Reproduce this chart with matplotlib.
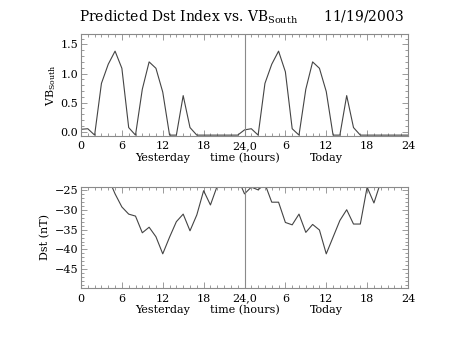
import numpy as np
import matplotlib

matplotlib.use("Agg")
import matplotlib.pyplot as plt  # noqa: E402
from matplotlib.ticker import MultipleLocator  # noqa: E402

plt.rcParams["font.family"] = ["DejaVu Serif"]

# hours 0..48 (yesterday 0-24, today 0-24)
hours = np.arange(49)

vb_south = [
    0.04, 0.05, -0.06, 0.83, 1.16, 1.385, 1.09, 0.07, -0.06, 0.73,
    1.20, 1.09, 0.68, -0.06, -0.06, 0.62, 0.07, -0.06, -0.06, -0.06,
    -0.06, -0.06, -0.06, -0.06, 0.03, 0.05, -0.06, 0.83, 1.16, 1.385,
    1.03, 0.05, -0.06, 0.73, 1.20, 1.09, 0.69, -0.06, -0.06, 0.62,
    0.07, -0.06, -0.06, -0.06, -0.06, -0.06, -0.06, -0.06, -0.06,
]

dst = [
    -18.0, -19.5, -20.5, -21.0, -22.0, -26.0, -29.3, -31.1, -31.6, -35.8,
    -34.4, -36.8, -41.1, -36.9, -33.0, -31.1, -35.3, -31.3, -25.2, -28.8,
    -24.0, -22.5, -21.5, -22.0, -26.0, -24.3, -25.0, -23.5, -28.1, -28.1,
    -33.2, -33.8, -31.1, -35.7, -33.7, -35.1, -41.1, -36.9, -32.7, -30.0,
    -33.6, -33.6, -24.3, -28.3, -23.0, -21.5, -20.5, -20.0, -19.5,
]

xtick_pos = [0, 6, 12, 18, 24, 30, 36, 42, 48]
xtick_labels = ["0", "6", "12", "18", "24,0", "6", "12", "18", "24"]
day_labels = [(12, "Yesterday"), (24, "time (hours)"), (36, "Today")]

W, H = 453, 340
fig = plt.figure(figsize=(W / 100, H / 100), dpi=100)
fig.patch.set_facecolor("white")

axis_col = "#8a8a8a"
line_col = "#444444"
fs = 8


def px_axes(x0, y0, x1, y1):
    return fig.add_axes([x0 / W, 1 - y1 / H, (x1 - x0) / W, (y1 - y0) / H])


def style(ax, ylim, ymaj, ymin):
    ax.set_xlim(0, 48)
    ax.set_ylim(*ylim)
    ax.set_xticks(xtick_pos)
    ax.set_xticklabels(xtick_labels)
    ax.xaxis.set_minor_locator(MultipleLocator(1))
    ax.yaxis.set_major_locator(MultipleLocator(ymaj))
    ax.yaxis.set_minor_locator(MultipleLocator(ymin))
    ax.tick_params(which="both", direction="in", top=True, right=True,
                   color=axis_col, labelsize=fs, width=0.6)
    ax.tick_params(which="major", length=4, pad=4)
    ax.tick_params(which="minor", length=2)
    ax.tick_params(axis="y", pad=2)
    for s in ax.spines.values():
        s.set_color(axis_col)
        s.set_linewidth(0.8)
    ax.axvline(24, color=axis_col, lw=0.8)
    for xd, txt in day_labels:
        ax.annotate(txt, xy=(xd, 0), xycoords=("data", "axes fraction"),
                    xytext=(0, -12.5), textcoords="offset points",
                    ha="center", va="top", fontsize=fs)


ax1 = px_axes(81, 34, 408, 135.7)
ax1.plot(hours, vb_south, color=line_col, lw=0.8)
style(ax1, (-0.07, 1.68), 0.5, 0.1)
ax1.yaxis.set_major_formatter(matplotlib.ticker.FormatStrFormatter("%.1f"))
ax1.set_ylabel(r"VB$_{\mathregular{South}}$", fontsize=fs, labelpad=2)

ax2 = px_axes(81, 186.7, 408, 288)
ax2.plot(hours, dst, color=line_col, lw=0.8)
style(ax2, (-49.7, -24.2), 5, 1)
ax2.set_ylabel("Dst (nT)", fontsize=fs, labelpad=3)

fig.text(242 / W, 1 - 17 / H,
         r"Predicted Dst Index vs. VB$_{\mathregular{South}}$      11/19/2003",
         ha="center", va="center", fontsize=10)

fig.savefig("out.png", dpi=100)
